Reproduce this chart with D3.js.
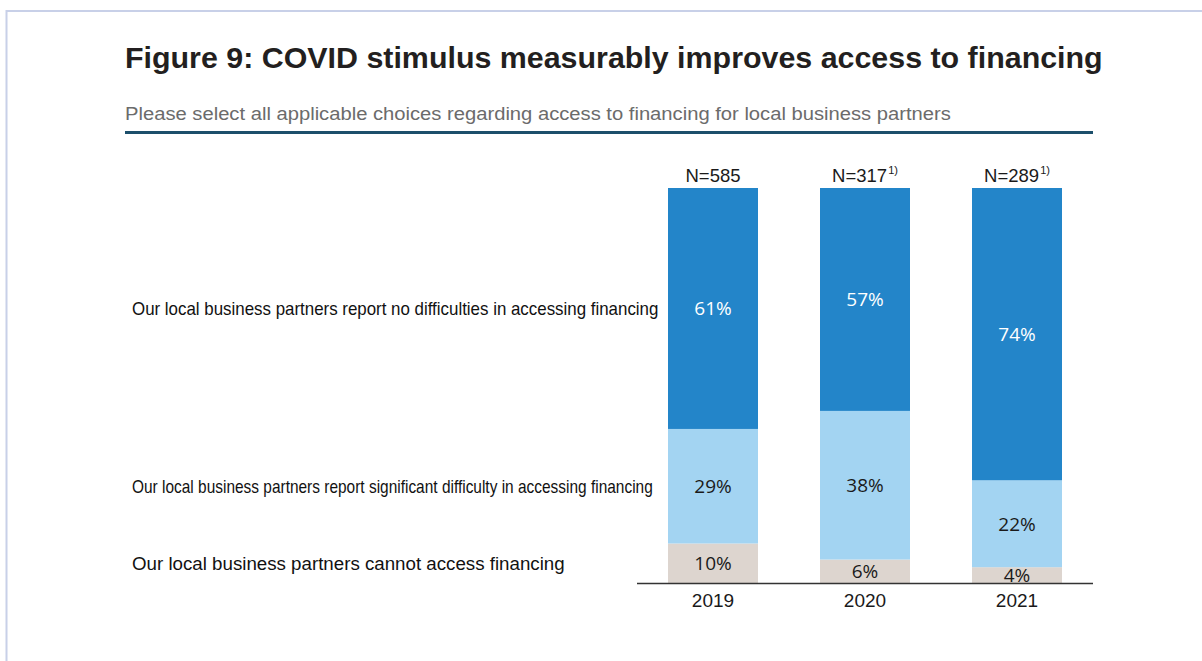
<!DOCTYPE html>
<html>
<head>
<meta charset="utf-8">
<script src="https://cdn.jsdelivr.net/npm/d3@7/dist/d3.min.js"></script>
<style>
  html, body { margin: 0; padding: 0; background: #fff; }
  svg { display: block; }
</style>
</head>
<body>
<svg id="chart" width="1202" height="661"></svg>
<script>
// Survey years and sample sizes
const years = ["2019", "2020", "2021"];
const sampleSizes = ["585", "317", "289"];
const sampleNotes = ["", "1)", "1)"];

// Answer categories, bottom of the stack first
const categories = [
  "Our local business partners cannot access financing",
  "Our local business partners report significant difficulty in accessing financing",
  "Our local business partners report no difficulties in accessing financing"
];
const cannotAccess = [10, 6, 4];
const significantDifficulty = [29, 38, 22];
const noDifficulties = [61, 57, 74];

const title = "Figure 9: COVID stimulus measurably improves access to financing";
const subtitle = "Please select all applicable choices regarding access to financing for local business partners";

const colors = ["#ddd5cf", "#a3d4f2", "#2385c9"];
const labelColors = ["#1a1a1a", "#1a1a1a", "#ffffff"];

const svg = d3.select("#chart");

// Squeeze a text horizontally so it spans the given width
function fitWidth(sel, x, y, width) {
  sel.each(function (d, i) {
    const t = d3.select(this);
    const w = this.getComputedTextLength();
    const tw = typeof width === "function" ? width(d, i) : width;
    const ty = typeof y === "function" ? y(d, i) : y;
    t.attr("x", 0).attr("y", 0)
      .attr("transform", `translate(${x},${ty}) scale(${tw / w},1)`);
  });
}

// Frame
svg.append("line").attr("x1", 6.5).attr("x2", 1202).attr("y1", 11).attr("y2", 11)
  .attr("stroke", "#c8d0e8").attr("stroke-width", 2);
svg.append("line").attr("x1", 6.5).attr("x2", 6.5).attr("y1", 10).attr("y2", 661)
  .attr("stroke", "#c8d0e8").attr("stroke-width", 2);

// Title block
svg.append("text")
  .attr("font-family", "Liberation Sans, Arial, sans-serif")
  .attr("font-weight", "bold").attr("font-size", 30).attr("fill", "#231f20")
  .text(title)
  .call(fitWidth, 125, 68, 978);

svg.append("text")
  .attr("font-family", "Liberation Sans, Arial, sans-serif")
  .attr("font-size", 18.5).attr("fill", "#6b6b6b")
  .text(subtitle)
  .call(fitWidth, 125, 120, 826);

svg.append("line").attr("x1", 125).attr("x2", 1093).attr("y1", 132.5).attr("y2", 132.5)
  .attr("stroke", "#1c4f6b").attr("stroke-width", 3);

// Scales
const x = d3.scaleBand().domain(years).range([637, 1093])
  .paddingInner(0.408).paddingOuter(0.204);
const y = d3.scaleLinear().domain([0, 1]).range([583, 188]);

const rows = years.map((yr, i) => ({
  year: yr,
  c0: cannotAccess[i],
  c1: significantDifficulty[i],
  c2: noDifficulties[i]
}));
const stack = d3.stack().keys(["c0", "c1", "c2"]).offset(d3.stackOffsetExpand);
const series = stack(rows);

const seriesG = svg.append("g").selectAll("g").data(series).join("g")
  .attr("fill", (d, i) => colors[i]);

seriesG.selectAll("rect").data(d => d).join("rect")
  .attr("x", d => x(d.data.year))
  .attr("width", x.bandwidth())
  .attr("y", d => y(d[1]))
  .attr("height", d => y(d[0]) - y(d[1]));

// Segment value labels
series.forEach((s, si) => {
  svg.append("g").selectAll("text").data(s).join("text")
    .attr("x", d => x(d.data.year) + x.bandwidth() / 2)
    .attr("y", d => (y(d[0]) + y(d[1])) / 2)
    .attr("dy", "0.36em")
    .attr("text-anchor", "middle")
    .attr("font-family", "Open Sans, Noto Sans, sans-serif")
    .attr("font-size", 19)
    .attr("fill", labelColors[si])
    .text(d => d.data[s.key] + "%");
});

// Baseline axis with year labels
const axis = svg.append("g").attr("transform", "translate(0,583.5)")
  .call(d3.axisBottom(x).tickSize(0).tickPadding(10));
axis.select(".domain").attr("d", "M637,0H1093").attr("stroke", "#333").attr("stroke-width", 1.5);
axis.selectAll("text")
  .attr("font-family", "Liberation Sans, Arial, sans-serif")
  .attr("font-size", 19).attr("fill", "#1a1a1a");

// Sample sizes above bars
const nLabels = svg.append("g").selectAll("text").data(years).join("text")
  .attr("x", d => x(d) + x.bandwidth() / 2)
  .attr("y", 182)
  .attr("text-anchor", "middle")
  .attr("font-family", "Liberation Sans, Arial, sans-serif")
  .attr("font-size", 18.5).attr("fill", "#1a1a1a");
nLabels.append("tspan").text((d, i) => "N=" + sampleSizes[i]);
nLabels.append("tspan").attr("font-size", 11).attr("dy", -8).attr("dx", 1)
  .text((d, i) => sampleNotes[i]);

// Category labels, level with the first bar's segments
const first = series.map(s => s[0]);
svg.append("g").selectAll("text").data(categories).join("text")
  .attr("dy", "0.36em")
  .attr("font-family", "Liberation Sans, Arial, sans-serif")
  .attr("font-size", 17.5).attr("fill", "#111")
  .text(d => d)
  .call(fitWidth, 132,
    (d, i) => (y(first[i][0]) + y(first[i][1])) / 2,
    (d, i) => [433, 521, 527][i]);
</script>
</body>
</html>
